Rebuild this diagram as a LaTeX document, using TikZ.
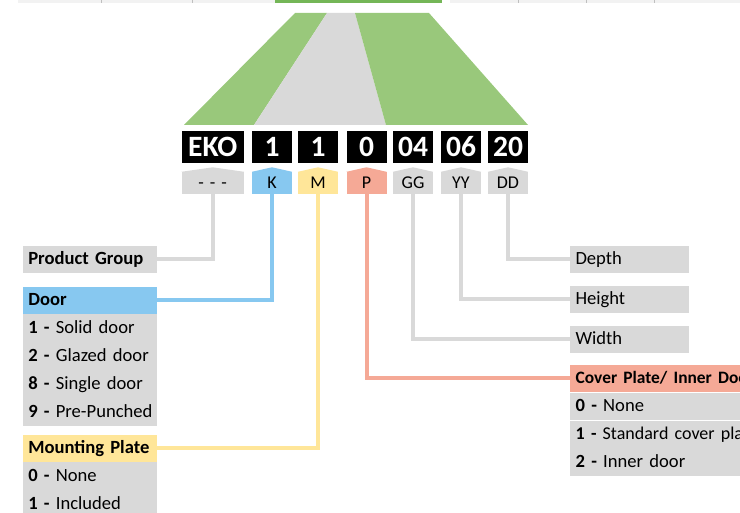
\documentclass[tikz,border=0pt]{standalone}
\usepackage{fontspec}
\setmainfont{Carlito}
\usetikzlibrary{positioning}

\definecolor{grn}{HTML}{99C87B}
\definecolor{grnbar}{HTML}{74B657}
\definecolor{gry}{HTML}{D9D9D9}
\definecolor{strip}{HTML}{F2F2F2}
\definecolor{tickgry}{HTML}{BFBFBF}
\definecolor{blu}{HTML}{87C8F0}
\definecolor{yel}{HTML}{FFE699}
\definecolor{sal}{HTML}{F5A996}

\begin{document}
\begin{tikzpicture}[x=1pt,y=-1pt,
  codebox/.style={fill=black,text=white,font=\fontsize{29.5}{31}\selectfont\bfseries,
    minimum width=40pt,inner xsep=0pt,inner ysep=0pt,text height=25.5pt,text depth=6.5pt},
  tagbox/.style={fill=#1,font=\fontsize{18}{20}\selectfont,
    minimum width=40pt,inner xsep=0pt,inner ysep=0pt,text height=16.5pt,text depth=5.5pt},
  lblbox/.style={fill=#1,font=\fontsize{18.6}{21}\selectfont,text width=123pt,align=left,
    inner xsep=5.5pt,inner ysep=2pt,text height=17pt,text depth=6.5pt},
  link/.style={draw=#1,line width=4pt}]
\useasboundingbox (0,0) rectangle (740,513);
\clip (0,0) rectangle (740,513);
%% strip at the top
\fill[strip] (18,0) rectangle (275,3.3);
\fill[strip] (450,0) rectangle (740,3.3);
\fill[grnbar] (275,0) rectangle (442,3.3);
\foreach \x in {101.7,192.3,518,586,654}
  \draw[tickgry,line width=1pt] (\x,0) -- (\x,3.3);
%% trapezoid
\fill[grn] (295,13) -- (327,13) -- (254,125) -- (184,125) -- cycle;
\fill[gry] (327,13) -- (355,13) -- (386,125) -- (254,125) -- cycle;
\fill[grn] (355,13) -- (429,13) -- (528,125) -- (386,125) -- cycle;
%% code row
\node[codebox,minimum width=62.5pt] (cEKO) at (212.75,147) {EKO};
\node[codebox] (cK) at (272,147) {1};
\node[codebox] (cM) at (318,147) {1};
\node[codebox] (cP) at (366.5,147) {0};
\node[codebox] (cGG) at (413,147) {04};
\node[codebox] (cYY) at (461,147) {06};
\node[codebox] (cDD) at (508,147) {20};
%% tags
\node[tagbox=gry,minimum width=62.5pt] (tPG) at (212.75,183) {-\,\,-\,\,-};
\node[tagbox=blu] (tK) at (272,183) {K};
\node[tagbox=yel] (tM) at (318,183) {M};
\node[tagbox=sal] (tP) at (366.5,183) {P};
\node[tagbox=gry] (tGG) at (413,183) {GG};
\node[tagbox=gry] (tYY) at (461,183) {YY};
\node[tagbox=gry] (tDD) at (508,183) {DD};
\foreach \t/\c in {tPG/gry,tK/blu,tM/yel,tP/sal,tGG/gry,tYY/gry,tDD/gry}
  \fill[\c] (\t.north west) -- ([yshift=4.5pt]\t.north) -- (\t.north east) -- cycle;
%% left side
\node[lblbox=gry] (pg) at (89.85,259.5) {\textbf{Product Group}};
\node[lblbox=blu] (door) at (89.85,300.3) {\textbf{Door}};
\node[lblbox=gry,below=0pt of door] (door1) {\mbox{\textbf{1 -} Solid door}};
\node[lblbox=gry,below=0pt of door1] (door2) {\mbox{\textbf{2 -} Glazed door}};
\node[lblbox=gry,below=0pt of door2] (door8) {\mbox{\textbf{8 -} Single door}};
\node[lblbox=gry,below=0pt of door8] (door9) {\mbox{\textbf{9 -} Pre-Punched}};
\node[lblbox=yel] (mount) at (89.85,448.3) {\textbf{Mounting Plate}};
\node[lblbox=gry,below=0pt of mount] (mount0) {\mbox{\textbf{0 -} None}};
\node[lblbox=gry,below=0pt of mount0] (mount1) {\mbox{\textbf{1 -} Included}};
%% right side
\node[lblbox=gry,text width=108pt] (depth) at (629.5,259.5) {Depth};
\node[lblbox=gry,text width=108pt] (height) at (629.5,299.5) {Height};
\node[lblbox=gry,text width=108pt] (width) at (629.5,339.5) {Width};
\node[lblbox=sal,text width=200pt,anchor=west] (cover) at (570,378.5) {\fontsize{17.4}{21}\selectfont\textbf{Cover Plate/ Inner Door}};
\node[lblbox=gry,text width=200pt,below=0pt of cover] (cover0) {\mbox{\textbf{0 -} None}};
\node[lblbox=gry,text width=200pt,below=0pt of cover0] (cover1) {\fontsize{18}{21}\selectfont\mbox{\textbf{1 -} Standard cover plate}};
\node[lblbox=gry,text width=200pt,below=0pt of cover1] (cover2) {\mbox{\textbf{2 -} Inner door}};
%% connectors
\draw[link=gry] (tPG.south) |- (pg.east);
\draw[link=blu] (tK.south) |- (door.east);
\draw[link=yel] (tM.south) |- (mount.east);
\draw[link=sal] (tP.south) |- (cover.west);
\draw[link=gry] (tGG.south) |- (width.west);
\draw[link=gry] (tYY.south) |- (height.west);
\draw[link=gry] (tDD.south) |- (depth.west);
\end{tikzpicture}
\end{document}
